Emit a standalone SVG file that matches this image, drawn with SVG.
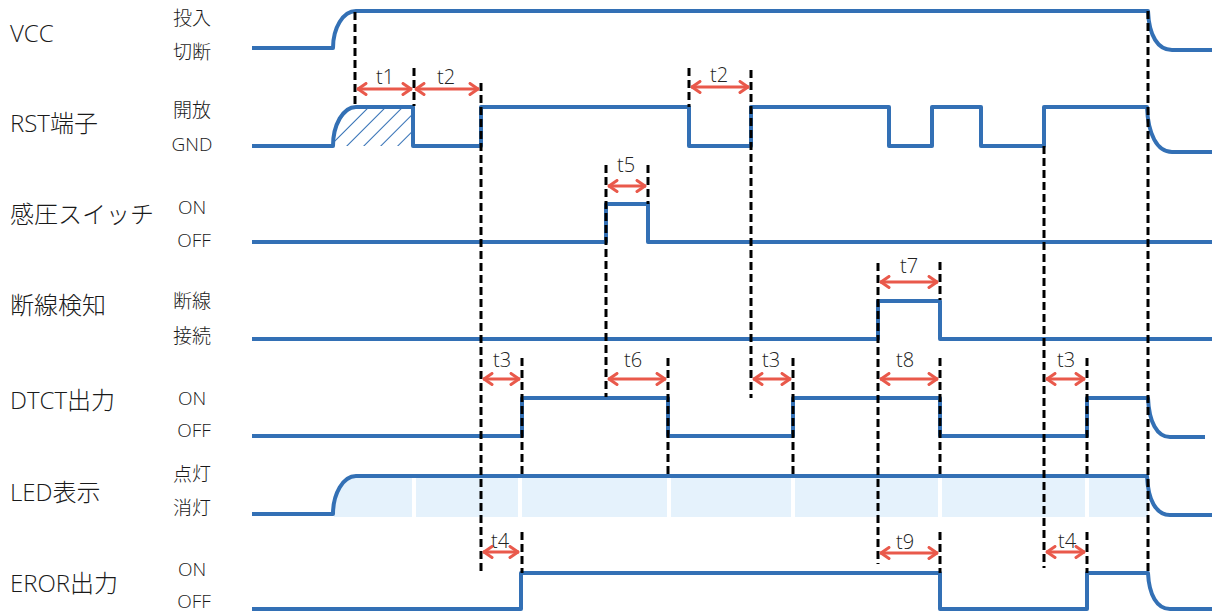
<svg xmlns="http://www.w3.org/2000/svg" width="1212" height="613" viewBox="0 0 1212 613">
<style>
.wave{fill:none;stroke:#3370b5;stroke-width:4;stroke-linejoin:round}
.dash{stroke:#000;stroke-width:3;stroke-dasharray:8 4;fill:none}
.arr{stroke:#e9594b;stroke-width:3;fill:none;marker-start:url(#ah);marker-end:url(#ah)}
.lbl{font-family:"Open Sans","Noto Sans CJK JP",sans-serif;font-size:24px;font-weight:300;fill:#1a1a1a}
.st{font-family:"Open Sans","Noto Sans CJK JP",sans-serif;font-size:19px;font-weight:300;fill:#1a1a1a;text-anchor:middle}
.tl{font-family:"Open Sans","Noto Sans CJK JP",sans-serif;font-size:20px;font-weight:300;fill:#222;text-anchor:middle}
.gap{stroke:#fff;stroke-width:4}
</style>
<defs>
<marker id="ah" viewBox="0 0 12 14" refX="11" refY="7" markerWidth="12" markerHeight="14" markerUnits="userSpaceOnUse" orient="auto-start-reverse">
<path d="M2,1.5 L10,7 L2,12.5" fill="none" stroke="#e9594b" stroke-width="3" stroke-linecap="round" stroke-linejoin="round"/>
</marker>
<pattern id="hatch" width="12" height="12" patternUnits="userSpaceOnUse" patternTransform="rotate(45)">
<line x1="0" y1="0" x2="0" y2="12" stroke="#3370b5" stroke-width="2"/>
</pattern>
</defs>
<g id="labels">
<text class="lbl" x="10" y="42">VCC</text>
<text class="lbl" x="10" y="132">RST端子</text>
<text class="lbl" x="10" y="223">感圧スイッチ</text>
<text class="lbl" x="10" y="314">断線検知</text>
<text class="lbl" x="10" y="409">DTCT出力</text>
<text class="lbl" x="10" y="501">LED表示</text>
<text class="lbl" x="10" y="592">EROR出力</text>
<text class="st" x="192" y="25">投入</text>
<text class="st" x="192" y="59">切断</text>
<text class="st" x="192" y="117">開放</text>
<text class="st" x="192" y="151">GND</text>
<text class="st" x="192" y="214">ON</text>
<text class="st" x="194" y="247">OFF</text>
<text class="st" x="192" y="308">断線</text>
<text class="st" x="192" y="343">接続</text>
<text class="st" x="192" y="405">ON</text>
<text class="st" x="194" y="437">OFF</text>
<text class="st" x="192" y="481">点灯</text>
<text class="st" x="192" y="515">消灯</text>
<text class="st" x="192" y="576">ON</text>
<text class="st" x="194" y="608">OFF</text>
</g>
<g id="led-fill">
<path d="M334,517 C334,496 344,477 356,477 L1148,477 L1148,517 Z" fill="#e5f2fc"/>
<line class="gap" x1="414" y1="478" x2="414" y2="519"/>
<line class="gap" x1="520" y1="478" x2="520" y2="519"/>
<line class="gap" x1="669" y1="478" x2="669" y2="519"/>
<line class="gap" x1="793" y1="478" x2="793" y2="519"/>
<line class="gap" x1="940" y1="478" x2="940" y2="519"/>
<line class="gap" x1="1087" y1="478" x2="1087" y2="519"/>
</g>
<g id="hatch-area">
<path d="M334,146 C334,125 344,107 356,107 L413,107 L413,146 Z" fill="url(#hatch)"/>
</g>
<g id="waves">
<path id="vcc" class="wave" d="M252,48 L333,48 C333,28 343,11 356,11 L1148,11 C1149,36 1158,50 1172,50 L1212,50"/>
<path id="rst" class="wave" d="M252,146 L333,146 C333,125 343,107 356,107 L413,107 L413,146 L481,146 L481,107 L689,107 L689,146 L751,146 L751,107 L889,107 L889,146 L932,146 L932,107 L981,107 L981,146 L1044,146 L1044,107 L1147,107 C1148,134 1157,152 1172,152 L1212,152"/>
<path id="sw" class="wave" d="M252,242 L606,242 L606,204 L648,204 L648,242 L1212,242"/>
<path id="brk" class="wave" d="M252,339 L878,339 L878,301 L940,301 L940,339 L1212,339"/>
<path id="dtct" class="wave" d="M252,436 L522,436 L522,398 L668,398 L668,436 L793,436 L793,398 L940,398 L940,436 L1087,436 L1087,398 L1148,398 C1149,422 1157,437 1170,437 L1205,437"/>
<path id="led" class="wave" d="M252,514 L333,514 C333,494 343,476 356,476 L1147,476 C1148,500 1156,515 1170,515 L1212,515"/>
<path id="eror" class="wave" d="M252,609 L521,609 L521,573 L940,573 L940,609 L1087,609 L1087,573 L1148,573 C1149,595 1157,609 1170,609 L1212,609"/>
</g>
<g id="connectors">
<line class="dash" x1="355" y1="12" x2="355" y2="106"/>
<line class="dash" x1="414" y1="68" x2="414" y2="106"/>
<line class="dash" x1="481" y1="83" x2="481" y2="572"/>
<line class="dash" x1="522" y1="358" x2="522" y2="476"/>
<line class="dash" x1="522" y1="532" x2="522" y2="573"/>
<line class="dash" x1="606" y1="165" x2="606" y2="397"/>
<line class="dash" x1="648" y1="165" x2="648" y2="204"/>
<line class="dash" x1="668" y1="358" x2="668" y2="476"/>
<line class="dash" x1="689" y1="68" x2="689" y2="107"/>
<line class="dash" x1="751" y1="70" x2="751" y2="398"/>
<line class="dash" x1="793" y1="358" x2="793" y2="476"/>
<line class="dash" x1="878" y1="263" x2="878" y2="564"/>
<line class="dash" x1="940" y1="262" x2="940" y2="300"/>
<line class="dash" x1="940" y1="358" x2="940" y2="476"/>
<line class="dash" x1="940" y1="532" x2="940" y2="573"/>
<line class="dash" x1="1044" y1="146" x2="1044" y2="568"/>
<line class="dash" x1="1087" y1="358" x2="1087" y2="476"/>
<line class="dash" x1="1087" y1="532" x2="1087" y2="573"/>
<line class="dash" x1="1148" y1="11" x2="1148" y2="573"/>
<line class="arr" x1="357" y1="89" x2="412" y2="89"/>
<line class="arr" x1="415" y1="89" x2="479" y2="89"/>
<line class="arr" x1="691" y1="87" x2="749" y2="87"/>
<line class="arr" x1="608" y1="186" x2="646" y2="186"/>
<line class="arr" x1="880" y1="282" x2="938" y2="282"/>
<line class="arr" x1="483" y1="379" x2="520" y2="379"/>
<line class="arr" x1="608" y1="379" x2="666" y2="379"/>
<line class="arr" x1="753" y1="379" x2="791" y2="379"/>
<line class="arr" x1="880" y1="379" x2="938" y2="379"/>
<line class="arr" x1="1046" y1="379" x2="1085" y2="379"/>
<line class="arr" x1="483" y1="552" x2="519" y2="552"/>
<line class="arr" x1="880" y1="553" x2="938" y2="553"/>
<line class="arr" x1="1046" y1="552" x2="1085" y2="552"/>
</g>
<g id="timing-labels">
<text class="tl" x="385" y="84">t1</text>
<text class="tl" x="446" y="84">t2</text>
<text class="tl" x="719" y="82">t2</text>
<text class="tl" x="626" y="172">t5</text>
<text class="tl" x="909" y="273">t7</text>
<text class="tl" x="502" y="367">t3</text>
<text class="tl" x="633" y="367">t6</text>
<text class="tl" x="771" y="367">t3</text>
<text class="tl" x="905" y="367">t8</text>
<text class="tl" x="1066" y="367">t3</text>
<text class="tl" x="500" y="548">t4</text>
<text class="tl" x="905" y="549">t9</text>
<text class="tl" x="1067" y="548">t4</text>
</g>
</svg>
